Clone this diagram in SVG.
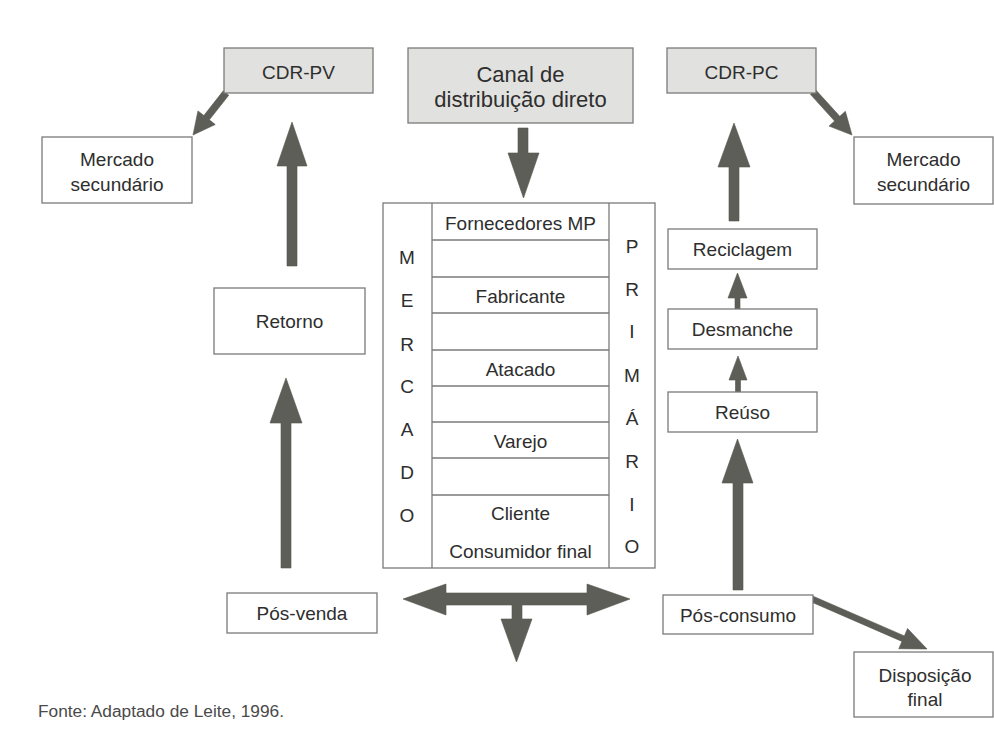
<svg xmlns="http://www.w3.org/2000/svg" width="994" height="733" viewBox="0 0 994 733">
<style>
.box{fill:#ffffff;stroke:#7a7a7a;stroke-width:1.3}
.gbox{fill:#e1e1df;stroke:#7a7a7a;stroke-width:1.3}
.ln{stroke:#7a7a7a;stroke-width:1.3;fill:none}
.t{font-family:"Liberation Sans",Arial,sans-serif;font-size:19px;fill:#2e2e2e;text-anchor:middle}
.big{font-size:22px}
.arr{fill:#5e5e58;stroke:#55554f;stroke-width:0.6}
.src{font-family:"Liberation Sans",Arial,sans-serif;font-size:17.3px;fill:#4a4a4a}
</style>
<rect width="994" height="733" fill="#ffffff"/>

<g id="connectors">
  <polygon class="arr" points="228.75,95.16 209.35,119.86 215.25,124.5 193,135 197.95,110.9 203.85,115.54 223.25,90.84"/>
  <polygon class="arr" points="810.4,94.35 834.6,121.05 829.05,126.1 852,135 845.35,111.3 839.8,116.35 815.6,89.65"/>
  <polygon class="arr" points="810.8,601.75 901.96,641.38 898.77,648.72 927,649 907.55,628.54 904.36,635.88 813.2,596.25"/>
  <polygon class="arr" points="287,266 287,166 277,166 292,122 307,166 297,166 297,266"/>
  <polygon class="arr" points="281,568 281,423 270,423 286,378 302,423 291,423 291,568"/>
  <polygon class="arr" points="518,128 528,128 528,153 539,153 523.5,198 508,153 518,153"/>
  <polygon class="arr" points="729,221 729,167 718,167 734,123 750,167 739,167 739,221"/>
  <polygon class="arr" points="735,309 735,298 728,298 737.5,273 747,298 740,298 740,309"/>
  <polygon class="arr" points="735.5,392 735.5,380 729,380 738,356 747,380 740.5,380 740.5,392"/>
  <polygon class="arr" points="733,590 733,483 722,483 737.5,439 753,483 743,483 743,590"/>
  <polygon class="arr" points="403,599 446,584 446,593 587,593 587,584 630,599 587,615 587,605 522,605 522,619 532,619 516.5,662 501,619 512,619 512,605 446,605 446,615"/>
</g>

<g id="cdr-pv">
  <rect class="gbox" x="224" y="48" width="149" height="45"/>
  <text class="t" x="298.5" y="79">CDR-PV</text>
</g>
<g id="canal">
  <rect class="gbox" x="408" y="48" width="225" height="75"/>
  <text class="t big" x="520.5" y="82">Canal de</text>
  <text class="t big" x="520.5" y="107">distribuição direto</text>
</g>
<g id="cdr-pc">
  <rect class="gbox" x="667" y="48" width="149" height="45"/>
  <text class="t" x="741.5" y="79">CDR-PC</text>
</g>
<g id="mercado-sec-esq">
  <rect class="box" x="42" y="137" width="150" height="66"/>
  <text class="t" x="117" y="166">Mercado</text>
  <text class="t" x="117" y="191">secundário</text>
</g>
<g id="mercado-sec-dir">
  <rect class="box" x="854" y="137" width="139" height="67"/>
  <text class="t" x="923.5" y="166">Mercado</text>
  <text class="t" x="923.5" y="191">secundário</text>
</g>
<g id="retorno">
  <rect class="box" x="214" y="288" width="151" height="66"/>
  <text class="t" x="289.5" y="328">Retorno</text>
</g>
<g id="pos-venda">
  <rect class="box" x="227" y="593" width="150" height="40"/>
  <text class="t" x="302" y="620">Pós-venda</text>
</g>
<g id="reciclagem">
  <rect class="box" x="668" y="229" width="149" height="40"/>
  <text class="t" x="742.5" y="256">Reciclagem</text>
</g>
<g id="desmanche">
  <rect class="box" x="668" y="309" width="149" height="40"/>
  <text class="t" x="742.5" y="336">Desmanche</text>
</g>
<g id="reuso">
  <rect class="box" x="668" y="392" width="149" height="40"/>
  <text class="t" x="742.5" y="419">Reúso</text>
</g>
<g id="pos-consumo">
  <rect class="box" x="663" y="595" width="150" height="39"/>
  <text class="t" x="738" y="622">Pós-consumo</text>
</g>
<g id="disposicao">
  <rect class="box" x="854" y="652" width="139" height="65"/>
  <text class="t" x="925" y="682">Disposição</text>
  <text class="t" x="925" y="706">final</text>
</g>

<g id="mercado-primario">
  <rect class="box" x="383" y="203" width="272" height="365"/>
  <line class="ln" x1="432" y1="203" x2="432" y2="568"/>
  <line class="ln" x1="609" y1="203" x2="609" y2="568"/>
  <line class="ln" x1="432" y1="240" x2="609" y2="240"/>
  <line class="ln" x1="432" y1="277" x2="609" y2="277"/>
  <line class="ln" x1="432" y1="313" x2="609" y2="313"/>
  <line class="ln" x1="432" y1="350" x2="609" y2="350"/>
  <line class="ln" x1="432" y1="386" x2="609" y2="386"/>
  <line class="ln" x1="432" y1="422" x2="609" y2="422"/>
  <line class="ln" x1="432" y1="458" x2="609" y2="458"/>
  <line class="ln" x1="432" y1="495" x2="609" y2="495"/>
  <text class="t" x="520.5" y="230">Fornecedores MP</text>
  <text class="t" x="520.5" y="303">Fabricante</text>
  <text class="t" x="520.5" y="376">Atacado</text>
  <text class="t" x="520.5" y="448">Varejo</text>
  <text class="t" x="520.5" y="520">Cliente</text>
  <text class="t" x="520.5" y="558">Consumidor final</text>
  <text class="t" x="407" y="264">M</text>
  <text class="t" x="407" y="307">E</text>
  <text class="t" x="407" y="351">R</text>
  <text class="t" x="407" y="393">C</text>
  <text class="t" x="407" y="436">A</text>
  <text class="t" x="407" y="479">D</text>
  <text class="t" x="407" y="522">O</text>
  <text class="t" x="632" y="253">P</text>
  <text class="t" x="632" y="296">R</text>
  <text class="t" x="632" y="338">I</text>
  <text class="t" x="632" y="382">M</text>
  <text class="t" x="632" y="425">Á</text>
  <text class="t" x="632" y="468">R</text>
  <text class="t" x="632" y="511">I</text>
  <text class="t" x="632" y="553">O</text>
</g>

<text class="src" x="38" y="717">Fonte: Adaptado de Leite, 1996.</text>
</svg>
